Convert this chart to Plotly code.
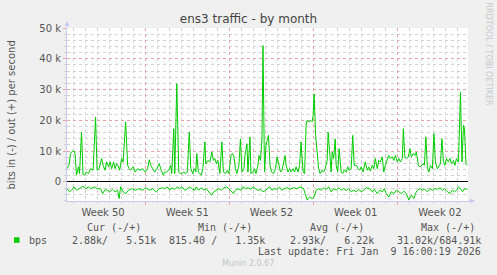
import pandas as pd
import plotly.graph_objects as go

# ---------------- data ----------------
START = pd.Timestamp("2025-12-07 12:00")   # left edge of the graph
SPAN_HOURS = 800                            # munin "by month" window

# outgoing traffic (kbit/s), time in hours since START
out_hours = [0, 4, 7, 11, 14, 16, 19, 21, 23, 25, 29, 32, 35, 39, 43, 47, 52, 57, 60, 64,
             69, 72, 76, 79, 83, 86, 89, 93, 96, 99, 103, 105, 109, 112, 117, 121, 124, 127, 132, 136,
             141, 145, 151, 156, 161, 164, 167, 171, 175, 179, 184, 188, 192, 195, 198, 203, 207, 209, 213, 215,
             219, 223, 226, 229, 233, 237, 240, 244, 247, 251, 254, 257, 259, 262, 265, 268, 271, 275, 277, 281,
             285, 289, 292, 295, 298, 301, 305, 309, 312, 316, 320, 323, 327, 330, 333, 336, 339, 343, 346, 349,
             353, 355, 359, 361, 365, 367, 371, 374, 377, 381, 383, 386, 389, 391, 394, 397, 402, 405, 408, 412,
             416, 419, 423, 426, 429, 433, 435, 437, 441, 444, 447, 451, 454, 457, 461, 464, 467, 471, 474, 477,
             479, 483, 486, 489, 491, 493, 496, 499, 502, 505, 509, 512, 515, 519, 521, 524, 527, 529, 532, 535,
             537, 540, 543, 547, 550, 553, 557, 560, 563, 567, 570, 573, 577, 581, 584, 587, 591, 595, 599, 602,
             605, 609, 612, 615, 619, 622, 625, 629, 632, 635, 639, 642, 645, 649, 652, 655, 659, 662, 665, 669,
             671, 674, 677, 681, 684, 687, 691, 694, 697, 701, 704, 707, 711, 713, 716, 719, 722, 725, 729, 732,
             735, 739, 742, 745, 748, 751, 754, 757, 761, 764, 767, 771, 774, 777, 781, 783, 785, 788, 791, 793,
             796, 799]
out_kbps = [4.3, 5.4, 9.2, 10.0, 10.0, 9.2, 2.2, 3.2, 4.9, 2.7, 16.2, 2.4, 2.2, 3.2, 2.7, 4.3, 3.8, 21.0, 3.8, 4.3,
            7.6, 5.4, 3.8, 6.5, 4.9, 6.5, 4.3, 6.5, 4.3, 5.9, 4.9, 3.8, 7.6, 6.5, 19.5, 5.4, 4.3, 3.8, 4.9, 3.2,
            4.3, 3.8, 4.3, 3.2, 4.3, 7.2, 5.4, 4.3, 3.2, 4.3, 5.9, 3.8, 2.2, 3.2, 3.2, 3.8, 5.4, 2.7, 17.3, 2.7,
            31.9, 3.2, 2.7, 2.7, 3.2, 2.7, 3.2, 16.2, 4.3, 2.7, 4.3, 3.2, 9.2, 3.2, 2.7, 2.2, 4.3, 13.0, 5.9, 7.0,
            6.5, 9.7, 7.0, 7.6, 5.9, 7.0, 2.7, 13.0, 3.2, 2.7, 3.8, 2.7, 8.6, 9.2, 8.1, 4.3, 2.7, 5.4, 14.0, 3.2,
            4.3, 8.6, 12.4, 3.2, 14.6, 2.7, 3.2, 4.3, 2.7, 5.4, 8.6, 7.0, 14.0, 44.3, 3.2, 11.9, 15.1, 5.4, 3.2, 2.7,
            4.3, 8.1, 5.4, 3.2, 3.8, 7.0, 8.6, 5.4, 3.2, 4.3, 3.2, 4.3, 3.2, 4.9, 3.2, 5.4, 13.0, 3.2, 2.7, 18.4,
            20.0, 19.5, 20.0, 19.5, 21.6, 28.6, 15.1, 9.7, 4.3, 2.7, 3.8, 3.2, 4.3, 7.0, 16.2, 9.7, 3.2, 9.7, 7.6, 14.0,
            5.4, 3.2, 10.8, 3.2, 2.7, 3.8, 3.2, 4.9, 3.8, 4.3, 15.1, 5.4, 5.4, 4.3, 3.8, 4.9, 3.2, 6.5, 3.8, 4.9,
            3.5, 5.4, 4.3, 7.6, 4.3, 7.0, 6.5, 8.1, 3.2, 5.4, 7.6, 8.6, 7.6, 8.1, 7.0, 8.6, 6.5, 7.6, 6.5, 7.6,
            17.3, 8.1, 7.6, 8.1, 10.8, 8.1, 9.2, 8.6, 9.7, 5.4, 4.9, 5.4, 5.9, 5.4, 14.6, 4.3, 3.2, 5.4, 4.3, 15.7,
            6.5, 4.3, 5.4, 5.9, 14.0, 6.5, 5.4, 7.6, 6.5, 7.6, 5.9, 7.0, 5.4, 7.6, 6.5, 18.4, 29.2, 6.5, 18.4, 17.3,
            5.9, 5.4]

# incoming traffic (kbit/s, drawn negative), time in hours since START
in_hours = [0, 5, 9, 14, 19, 23, 27, 32, 37, 43, 47, 54, 61, 67, 71, 76, 81, 85, 91, 96,
            101, 104, 107, 112, 117, 123, 129, 136, 143, 151, 157, 164, 171, 177, 184, 191, 195, 200, 205, 209,
            215, 220, 225, 229, 235, 240, 245, 249, 255, 258, 263, 268, 273, 278, 283, 288, 293, 298, 303, 308,
            313, 319, 323, 328, 332, 336, 341, 347, 351, 356, 361, 367, 371, 376, 381, 387, 391, 396, 399, 404,
            409, 413, 419, 424, 429, 433, 439, 445, 452, 459, 465, 472, 475, 479, 484, 489, 493, 497, 502, 507,
            512, 517, 522, 527, 532, 537, 542, 547, 552, 557, 562, 567, 572, 577, 582, 587, 592, 597, 604, 609,
            613, 619, 624, 629, 633, 637, 642, 647, 652, 657, 662, 667, 672, 677, 682, 687, 692, 695, 699, 704,
            709, 713, 719, 724, 729, 733, 739, 744, 749, 753, 759, 764, 769, 773, 777, 781, 785, 789, 793, 799]
in_kbps = [-2.2, -3.2, -2.7, -1.6, -2.7, -2.2, -1.9, -1.4, -2.2, -1.6, -2.2, -1.6, -2.2, -2.2, -3.8, -2.5, -2.7, -3.2, -2.4, -3.2,
           -2.7, -5.4, -1.6, -3.2, -3.8, -2.7, -2.2, -2.7, -2.2, -2.7, -1.9, -2.7, -2.2, -3.2, -2.2, -1.9, -2.2, -1.6, -2.7, -1.9,
           -2.4, -1.6, -2.2, -1.6, -2.7, -2.2, -1.6, -2.2, -2.7, -1.6, -2.7, -1.9, -2.7, -2.2, -3.2, -4.3, -3.2, -2.7, -2.2, -2.7,
           -1.9, -1.6, -2.2, -3.2, -3.8, -2.7, -2.2, -2.7, -1.6, -2.2, -1.9, -2.4, -1.6, -2.2, -2.7, -2.5, -3.2, -2.7, -2.2, -1.6,
           -2.7, -2.2, -2.4, -1.7, -2.7, -2.2, -1.9, -2.4, -1.9, -2.2, -1.6, -2.2, -3.8, -5.9, -4.9, -5.4, -4.9, -2.7, -2.2, -2.7,
           -1.9, -2.4, -1.6, -3.2, -2.2, -2.7, -1.9, -2.7, -2.2, -2.8, -2.2, -3.2, -2.7, -3.2, -2.4, -3.2, -2.7, -1.9, -2.2, -3.2,
           -2.4, -3.8, -2.7, -3.2, -2.2, -3.8, -4.9, -3.2, -3.8, -2.7, -3.2, -3.8, -3.0, -3.8, -5.9, -4.3, -5.4, -3.8, -2.7, -2.2,
           -2.7, -2.4, -3.2, -2.2, -2.7, -2.2, -2.4, -1.9, -2.7, -2.2, -3.2, -3.8, -2.7, -3.2, -2.7, -1.6, -2.2, -3.2, -2.2, -2.4]

week_labels = ["Week 50", "Week 51", "Week 52", "Week 01", "Week 02"]
week_centers = ["2025-12-10 12:00", "2025-12-17 12:00", "2025-12-24 12:00",
                "2025-12-31 12:00", "2026-01-07 12:00"]
first_week_start = "2025-12-14"

ytick_vals = [0, 10000, 20000, 30000, 40000, 50000]
ytick_text = ["0", "10 k", "20 k", "30 k", "40 k", "50 k"]
y_range = [-6200, 50000]

series_name = "bps"
col_headers = ["Cur (-/+)", "Min (-/+)", "Avg (-/+)", "Max (-/+)"]
col_values = ["2.88k/   5.51k", "815.40 /   1.35k", "2.93k/   6.22k", "31.02k/684.91k"]
last_update = "Last update: Fri Jan  9 16:00:19 2026"
title_text = "ens3 traffic - by month"
y_title = "bits in (-) / out (+) per second"

# ---------------- figure ----------------
W, H = 497, 275
L, R, T, B = 67, 468, 28, 201
def px(p):
    return (p - L) / (R - L)
def py(p):
    return (B - p) / (B - T)

GREEN = "#00CC00"
TXT = "#555555"
AXIS = "#C8C8F4"
MAJ = "#E6A4A4"
MIN = "#D2D2D2"

end = START + pd.Timedelta(hours=SPAN_HOURS)
t_out = [START + pd.Timedelta(hours=h) for h in out_hours]
t_in = [START + pd.Timedelta(hours=h) for h in in_hours]

fig = go.Figure()
fig.add_trace(go.Scatter(x=t_out, y=[v * 1000 for v in out_kbps], mode="lines",
                         line=dict(color=GREEN, width=1), name=series_name, showlegend=False))
fig.add_trace(go.Scatter(x=t_in, y=[v * 1000 for v in in_kbps], mode="lines",
                         line=dict(color=GREEN, width=1), name=series_name, showlegend=False))
# carrier trace for the label axis
fig.add_trace(go.Scatter(x=[START, end], y=[None, None], xaxis="x2", mode="lines",
                         showlegend=False, hoverinfo="skip"))

fig.update_layout(
    width=W, height=H,
    margin=dict(l=L, r=W - R, t=T, b=H - B),
    paper_bgcolor="#F0F0F0", plot_bgcolor="#FFFFFF",
    font=dict(family="DejaVu Sans", size=10, color=TXT),
    title=dict(text=title_text, x=0.5, xref="container", xanchor="center",
               y=1 - 19 / H, yref="container", yanchor="middle",
               font=dict(family="DejaVu Sans", size=12, color="#444444")),
    xaxis=dict(type="date", range=[START, end], showticklabels=False,
               tickmode="linear", tick0=first_week_start, dtick=7 * 86400000,
               showgrid=True, gridcolor=MAJ, griddash="dot", gridwidth=1,
               ticks="outside", ticklen=3, tickcolor=MAJ,
               minor=dict(dtick=86400000, tick0=first_week_start, showgrid=True,
                          gridcolor=MIN, griddash="dot", ticks="outside", ticklen=2, tickcolor=MIN),
               showline=True, linecolor=AXIS, zeroline=False, fixedrange=True),
    xaxis2=dict(type="date", overlaying="x", anchor="y", side="bottom", range=[START, end],
                tickmode="array", tickvals=week_centers, ticktext=week_labels,
                showgrid=False, ticks="", showline=False, zeroline=False,
                ticklabelstandoff=4, tickfont=dict(size=10, color=TXT)),
    yaxis=dict(range=y_range, tickmode="array", tickvals=ytick_vals, ticktext=ytick_text,
               showgrid=True, gridcolor=MAJ, griddash="dot", gridwidth=1,
               ticks="outside", ticklen=3, tickcolor=MAJ,
               minor=dict(dtick=2000, tick0=0, showgrid=True, gridcolor=MIN, griddash="dot",
                          ticks="outside", ticklen=2, tickcolor=MIN),
               zeroline=True, zerolinecolor="#000000", zerolinewidth=1,
               showline=True, linecolor=AXIS, tickfont=dict(size=10, color=TXT)),
)

shapes = []
# axis extension + arrows
shapes.append(dict(type="line", xref="paper", yref="paper", x0=0, x1=0, y0=1, y1=py(23),
                   line=dict(color=AXIS, width=1)))
shapes.append(dict(type="path", xref="paper", yref="paper",
                   path=f"M {px(64.5)},{py(26)} L {px(69.5)},{py(26)} L {px(67)},{py(21)} Z",
                   fillcolor=AXIS, line=dict(width=0)))
shapes.append(dict(type="line", xref="paper", yref="paper", x0=1, x1=px(472), y0=0, y1=0,
                   line=dict(color=AXIS, width=1)))
shapes.append(dict(type="path", xref="paper", yref="paper",
                   path=f"M {px(470)},{py(198.5)} L {px(470)},{py(203.5)} L {px(475)},{py(201)} Z",
                   fillcolor=AXIS, line=dict(width=0)))
# legend swatch
shapes.append(dict(type="rect", xref="paper", yref="paper", x0=px(14), x1=px(19.5),
                   y0=py(242.8), y1=py(237.3), fillcolor=GREEN, line=dict(width=0)))
fig.update_layout(shapes=shapes)

ann = []
def text(s, x, y, anchor="left", size=10, color=TXT, family="DejaVu Sans Mono", angle=0):
    ann.append(dict(text=s, x=px(x), y=py(y), xref="paper", yref="paper", showarrow=False,
                    xanchor=anchor, yanchor="middle", textangle=angle,
                    font=dict(family=family, size=size, color=color)))

text(y_title, 10.5, 115, anchor="center", family="DejaVu Sans", size=10, angle=-90)
text("RRDTOOL / TOBI OETIKER", 488.5, 54, anchor="center", family="DejaVu Sans", size=8,
     color="#C8C8C8", angle=90)
text(series_name, 26.5, 240)
for s, xr in zip(col_headers, [142.5, 254, 365.5, 476.5]):
    text(s, xr, 227.8, anchor="right")
for s, xr in zip(col_values, [157.5, 266.5, 375.5, 482.5]):
    text(s, xr, 240, anchor="right")
text(last_update, 482.5, 251.8, anchor="right")
text("Munin 2.0.67", 247.5, 263.3, anchor="center", family="DejaVu Sans", size=8, color="#C4C4C4")
fig.update_layout(annotations=ann)

fig.write_html("out.html")
